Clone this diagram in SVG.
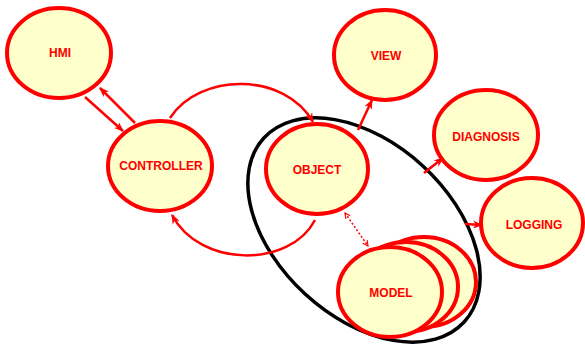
<svg xmlns="http://www.w3.org/2000/svg" width="585" height="345" viewBox="0 0 585 345">
  <style>
    .node { fill: #ffffcc; stroke: #ff0000; stroke-width: 4; }
    .label { font-family: "Liberation Sans", Arial, sans-serif; font-weight: bold; font-size: 12px; fill: #ff0000; text-anchor: middle; dominant-baseline: central; }
    .link { fill: none; stroke: #ff0000; stroke-width: 2.5; }
    .dotted { fill: none; stroke: #ff0000; stroke-width: 1.5; stroke-dasharray: 2 2; }
  </style>
  <defs>
    <marker id="arrow" viewBox="0 0 10 8" refX="9" refY="4" markerWidth="10" markerHeight="8" markerUnits="userSpaceOnUse" orient="auto">
      <path d="M0,0 L10,4 L0,8 L3,4 z" fill="#ff0000"/>
    </marker>
    <marker id="open" viewBox="0 0 8 8" refX="7" refY="4" markerWidth="7" markerHeight="7" markerUnits="userSpaceOnUse" orient="auto-start-reverse">
      <path d="M1,1 L7,4 L1,7" fill="none" stroke="#ff0000" stroke-width="1.3"/>
    </marker>
  </defs>

  <rect width="585" height="345" fill="#ffffff"/>

  <!-- grouping boundary around object and model -->
  <ellipse cx="364" cy="230" rx="136" ry="87" transform="rotate(42.6 364 230)" fill="none" stroke="#000000" stroke-width="3.5"/>

  <g id="hmi">
    <ellipse class="node" cx="59" cy="53" rx="52" ry="45"/>
    <text class="label" x="60" y="53">HMI</text>
  </g>
  <g id="controller">
    <ellipse class="node" cx="160" cy="166" rx="52" ry="45"/>
    <text class="label" x="161" y="166">CONTROLLER</text>
  </g>
  <g id="object">
    <ellipse class="node" cx="317" cy="169" rx="51" ry="45"/>
    <text class="label" x="317" y="170">OBJECT</text>
  </g>
  <g id="view">
    <ellipse class="node" cx="385" cy="55" rx="51" ry="45"/>
    <text class="label" x="386" y="56">VIEW</text>
  </g>
  <g id="diagnosis">
    <ellipse class="node" cx="486" cy="135" rx="52" ry="45"/>
    <text class="label" x="486" y="137">DIAGNOSIS</text>
  </g>
  <g id="logging">
    <ellipse class="node" cx="532" cy="223" rx="51" ry="45"/>
    <text class="label" x="534" y="225">LOGGING</text>
  </g>
  <g id="model">
    <ellipse class="node" cx="424" cy="282" rx="52" ry="45"/>
    <ellipse class="node" cx="406" cy="287" rx="52" ry="45"/>
    <ellipse class="node" cx="390" cy="292" rx="52" ry="45"/>
    <text class="label" x="391" y="293">MODEL</text>
  </g>

  <g id="connectors">
    <line class="link" x1="85" y1="97" x2="123" y2="131" marker-end="url(#arrow)"/>
    <line class="link" x1="135" y1="123" x2="100" y2="88" marker-end="url(#arrow)"/>
    <path class="link" d="M170,118 C200,72 285,72 313,122" marker-end="url(#arrow)"/>
    <path class="link" d="M315,220 C290,268 200,268 172,215" marker-end="url(#arrow)"/>
    <line class="link" x1="358" y1="130" x2="372" y2="100" marker-end="url(#arrow)"/>
    <line class="link" x1="424" y1="173" x2="443" y2="158" marker-end="url(#arrow)"/>
    <line class="link" x1="465" y1="224" x2="482" y2="225" marker-end="url(#arrow)"/>
    <line class="dotted" x1="345" y1="213" x2="368" y2="246" marker-start="url(#open)" marker-end="url(#open)"/>
  </g>
</svg>
